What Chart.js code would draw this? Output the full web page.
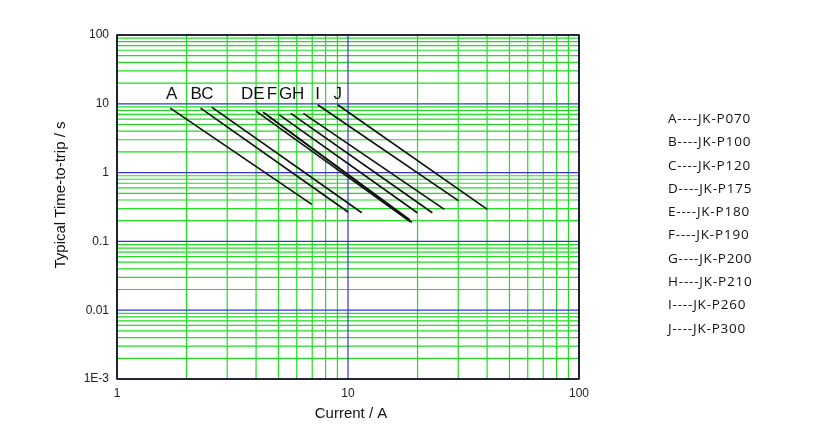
<!DOCTYPE html>
<html>
<head>
<meta charset="utf-8">
<script src="https://cdn.jsdelivr.net/npm/chart.js@4.4.1/dist/chart.umd.min.js"></script>
<style>
  html, body { margin: 0; padding: 0; background: #fff; }
  #wrap { position: relative; width: 829px; height: 435px; }
  #legend {
    position: absolute; left: 668px; top: 107px;
    font-family: "Open Sans", sans-serif; font-size: 13.5px;
    line-height: 23.3px; color: #111; letter-spacing: 0.8px; white-space: pre;
  }
</style>
</head>
<body>
<div id="wrap">
  <canvas id="chart" width="829" height="435"></canvas>
  <div id="legend"></div>
</div>
<script>
// ---- data (current in A, time in s) ----
const lineIds      = ["A", "B", "C", "D", "E", "F", "G", "H", "H2", "I", "J"];
const startCurrent = [1.70, 2.30, 2.57, 4.00, 4.29, 4.39, 5.03, 5.65, 6.41, 7.39, 9.02];
const startTime    = [8.66, 8.66, 8.96, 7.83, 7.57, 7.13, 6.95, 7.25, 7.25, 9.70, 9.70];
const endCurrent   = [6.97, 10.0, 11.47, 18.64, 18.92, 18.55, 19.95, 23.17, 26.12, 30.03, 40.1];
const endTime      = [0.345, 0.267, 0.261, 0.192, 0.189, 0.205, 0.261, 0.261, 0.292, 0.391, 0.292];

// curve letters above the lines
const letterNames   = ["A", "B", "C", "D", "E", "F", "G", "H", "I", "J"];
const letterCurrent = [1.725, 2.20, 2.46, 3.66, 4.12, 4.68, 5.37, 6.09, 7.39, 9.02];
const letterTime    = 13.7;

// legend on the right
const legendRows = ["A----JK-P070", "B----JK-P100", "C----JK-P120", "D----JK-P175", "E----JK-P180",
                    "F----JK-P190", "G----JK-P200", "H----JK-P210", "I----JK-P260", "J----JK-P300"];

// axes
const xTickValues = [1, 10, 100];
const xTickLabels = ["1", "10", "100"];
const yTickValues = [0.001, 0.01, 0.1, 1, 10, 100];
const yTickLabels = ["1E-3", "0.01", "0.1", "1", "10", "100"];

const GREEN = "#22dc22";
const BLUE = "#3535d4";
const FONT = '"Liberation Sans", Arial, sans-serif';

function gridValues(minExp, maxExp) {
  const out = [];
  for (let e = minExp; e < maxExp; e++) {
    for (let m = 1; m <= 9; m++) out.push(+(m * Math.pow(10, e)).toPrecision(6));
  }
  out.push(Math.pow(10, maxExp));
  return out;
}

function isDecade(v) {
  const l = Math.log10(v);
  return Math.abs(l - Math.round(l)) < 1e-9;
}

function labelFor(values, labels) {
  return (v) => {
    const i = values.findIndex(t => Math.abs(t - v) / t < 1e-6);
    return i >= 0 ? labels[i] : "";
  };
}

document.getElementById("legend").textContent = legendRows.join("\n");

const datasets = lineIds.map((id, i) => ({
  label: id,
  data: [{ x: startCurrent[i], y: startTime[i] }, { x: endCurrent[i], y: endTime[i] }],
  borderColor: "#111",
  borderWidth: 1.7,
  pointRadius: 0,
  fill: false,
  tension: 0,
}));

// green minor / blue decade grid, drawn from the scales
const logGrid = {
  id: "logGrid",
  beforeDatasetsDraw(chart) {
    const { ctx, chartArea: a, scales: { x, y } } = chart;
    ctx.save();
    ctx.lineWidth = 1.2;
    const pass = (decade) => {
      ctx.strokeStyle = decade ? BLUE : GREEN;
      ctx.beginPath();
      x.ticks.forEach(t => {
        if (isDecade(t.value) !== decade) return;
        const px = x.getPixelForValue(t.value);
        ctx.moveTo(px, a.top); ctx.lineTo(px, a.bottom);
      });
      y.ticks.forEach(t => {
        if (isDecade(t.value) !== decade) return;
        const py = y.getPixelForValue(t.value);
        ctx.moveTo(a.left, py); ctx.lineTo(a.right, py);
      });
      ctx.stroke();
    };
    pass(false);
    pass(true);
    ctx.restore();
  }
};

const overlay = {
  id: "overlay",
  afterDraw(chart) {
    const { ctx, chartArea: a, scales: { x, y } } = chart;
    ctx.save();
    ctx.strokeStyle = "#000";
    ctx.lineWidth = 1.5;
    ctx.strokeRect(a.left, a.top, a.right - a.left, a.bottom - a.top);

    ctx.fillStyle = "#111";
    ctx.textAlign = "center";
    ctx.textBaseline = "middle";
    ctx.font = "17px " + FONT;
    letterNames.forEach((t, i) => {
      ctx.fillText(t, x.getPixelForValue(letterCurrent[i]), y.getPixelForValue(letterTime));
    });

    ctx.font = "15px " + FONT;
    ctx.fillText("Current / A", (a.left + a.right) / 2 + 3, a.bottom + 35);
    ctx.translate(61, (a.top + a.bottom) / 2 - 12);
    ctx.rotate(-Math.PI / 2);
    ctx.fillText("Typical Time-to-trip / s", 0, 0);
    ctx.restore();
  }
};

new Chart(document.getElementById("chart"), {
  type: "line",
  data: { datasets },
  options: {
    responsive: false,
    animation: false,
    layout: { padding: { left: 0, right: 250, top: 35, bottom: 0 } },
    plugins: { legend: { display: false }, tooltip: { enabled: false } },
    scales: {
      x: {
        type: "logarithmic",
        min: 1, max: 100,
        afterBuildTicks: (s) => { s.ticks = gridValues(0, 2).map(v => ({ value: v })); },
        afterFit: (s) => { s.height = 56; },
        border: { display: false },
        grid: { display: false, drawTicks: false },
        ticks: {
          autoSkip: false, maxRotation: 0, padding: 7, color: "#222",
          font: { family: FONT, size: 12 },
          callback: labelFor(xTickValues, xTickLabels),
        },
      },
      y: {
        type: "logarithmic",
        min: 0.001, max: 100,
        afterBuildTicks: (s) => { s.ticks = gridValues(-3, 2).map(v => ({ value: v })); },
        afterFit: (s) => { s.width = 117; },
        border: { display: false },
        grid: { display: false, drawTicks: false },
        ticks: {
          autoSkip: false, padding: 8, color: "#222",
          font: { family: FONT, size: 12 },
          callback: labelFor(yTickValues, yTickLabels),
        },
      },
    },
  },
  plugins: [logGrid, overlay],
});
</script>
</body>
</html>
